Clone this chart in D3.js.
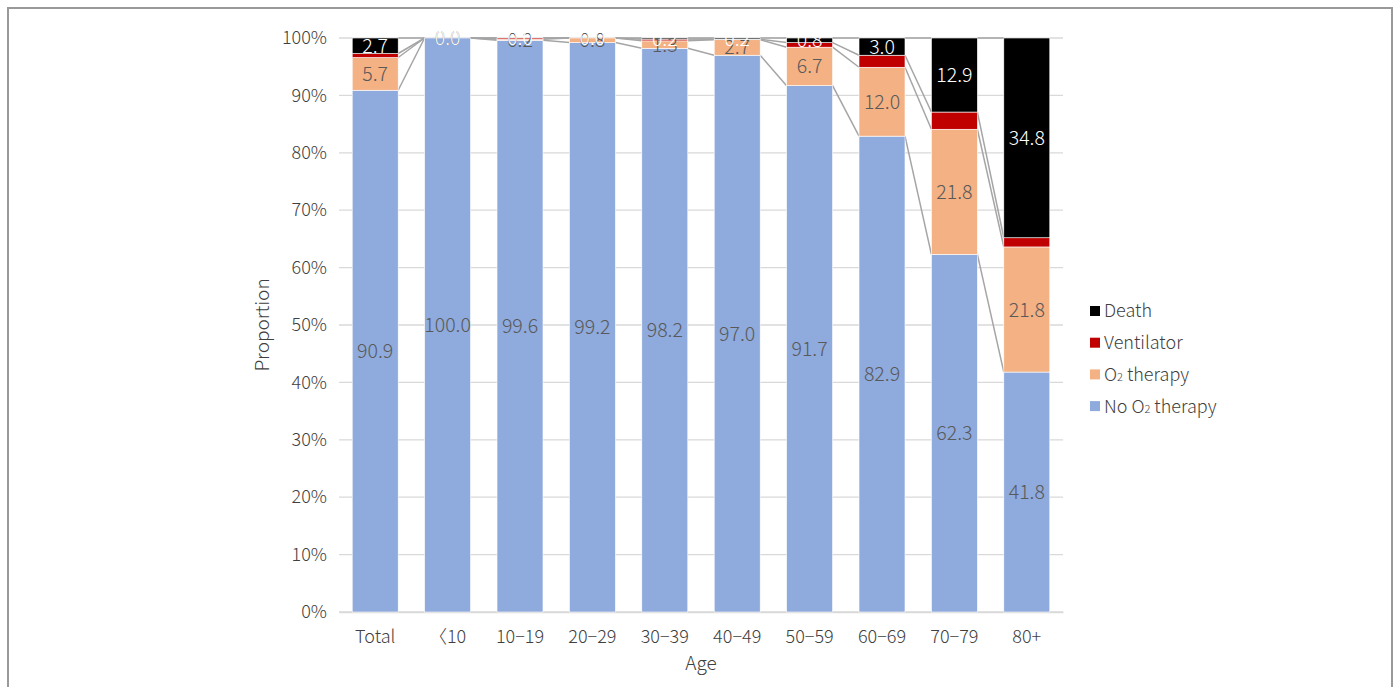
<!DOCTYPE html>
<html><head><meta charset="utf-8">
<script src="https://cdn.jsdelivr.net/npm/d3@7"></script>
<style>
html,body{margin:0;padding:0;background:#fff;}
svg text{font-family:"Noto Sans CJK KR","Noto Sans",sans-serif;font-weight:300;}
</style></head>
<body><svg id="c" width="1397" height="687"></svg>
<script>
const categories = ["Total","〈10","10−19","20−29","30−39","40−49","50−59","60−69","70−79","80+"];
const noO2 = [90.9,100.0,99.6,99.2,98.2,97.0,91.7,82.9,62.3,41.8];
const o2 = [5.7,0.0,0.2,0.8,1.3,2.7,6.7,12.0,21.8,21.8];
const vent = [0.7,0.0,0.2,0.0,0.3,0.1,0.8,2.1,3.0,1.6];
const death = [2.7,0.0,0.0,0.0,0.2,0.2,0.8,3.0,12.9,34.8];
const yTicks = [0,10,20,30,40,50,60,70,80,90,100];

const seriesNames = ["No O2 therapy","O2 therapy","Ventilator","Death"];
const seriesVals = [noO2,o2,vent,death];
const colors = ["#8faadc","#f4b183","#c00000","#000000"];
const labelColors = ["#595959","#595959",null,"#ffffff"];

const svg = d3.select("#c");
svg.append("path").attr("d","M8,700 V8 H1392 V700").attr("fill","none").attr("stroke","#999").attr("stroke-width",2);

const x = d3.scaleBand().domain(categories).range([339,1063]).paddingInner(0.365).paddingOuter(0.1825);
const y = d3.scaleLinear().domain([0,100]).range([612,38]);

svg.append("g").selectAll("line").data(yTicks).join("line")
  .attr("x1",339).attr("x2",1063).attr("y1",d=>y(d)).attr("y2",d=>y(d))
  .attr("stroke","#d9d9d9").attr("stroke-width",1.3);

const ya = svg.append("g").attr("transform","translate(327,0)")
  .call(d3.axisLeft(y).tickValues(yTicks).tickFormat(d=>d+"%").tickSize(0).tickPadding(0));
ya.select(".domain").remove();
ya.selectAll("text").attr("font-size",18).attr("fill","#404040").attr("font-family",null);

const xa = svg.append("g").attr("transform","translate(0,612)")
  .call(d3.axisBottom(x).tickSize(0).tickPadding(18));
xa.select(".domain").attr("stroke","#d9d9d9").attr("stroke-width",1.5);
xa.selectAll("text").attr("font-size",18).attr("fill","#404040").attr("font-family",null);

const data = categories.map((c,i)=>{const o={cat:c}; seriesNames.forEach((s,k)=>o[s]=seriesVals[k][i]); return o;});
const stack = d3.stack().keys(seriesNames)(data);

const bw = x.bandwidth();
stack.forEach((layer,k)=>{
  for(let i=0;i<categories.length-1;i++){
    svg.append("line")
      .attr("x1",x(categories[i])+bw).attr("y1",y(layer[i][1]))
      .attr("x2",x(categories[i+1])).attr("y2",y(layer[i+1][1]))
      .attr("stroke","#a5a5a5").attr("stroke-width",1.5);
  }
});

stack.forEach((layer,k)=>{
  svg.append("g").selectAll("rect").data(layer).join("rect")
    .attr("x",d=>x(d.data.cat)).attr("width",bw)
    .attr("y",d=>y(d[1])).attr("height",d=>Math.max(0,y(d[0])-y(d[1])))
    .attr("fill",colors[k]).attr("stroke","#fff").attr("stroke-width",0.6);
});

stack.forEach((layer,k)=>{
  if(!labelColors[k]) return;
  svg.append("g").selectAll("text").data(layer).join("text")
    .attr("x",d=>x(d.data.cat)+bw/2)
    .attr("y",d=>y((d[0]+d[1])/2))
    .attr("dy","0.36em").attr("text-anchor","middle")
    .attr("font-size",19.5).attr("fill",labelColors[k])
    .text(d=>(d[1]-d[0]).toFixed(1));
});

svg.append("text").attr("transform","translate(269,325) rotate(-90)").attr("text-anchor","middle")
  .attr("font-size",19).attr("fill","#404040").text("Proportion");
svg.append("text").attr("x",701).attr("y",670).attr("text-anchor","middle")
  .attr("font-size",19).attr("fill","#404040").text("Age");

const legendItems = [3,2,1,0];
legendItems.forEach((k,j)=>{
  const ly = 311 + j*31.7;
  svg.append("rect").attr("x",1090).attr("y",ly-5).attr("width",10).attr("height",10).attr("fill",colors[k]);
  const t = svg.append("text").attr("x",1104).attr("y",ly).attr("dy","0.36em").attr("font-size",18).attr("fill","#404040");
  const name = seriesNames[k];
  if(name.includes("O2")){
    const parts = name.split("O2");
    t.append("tspan").text(parts[0]+"O");
    t.append("tspan").attr("font-size",11).text("2");
    t.append("tspan").text(parts[1]);
  } else t.text(name);
});
</script></body></html>
